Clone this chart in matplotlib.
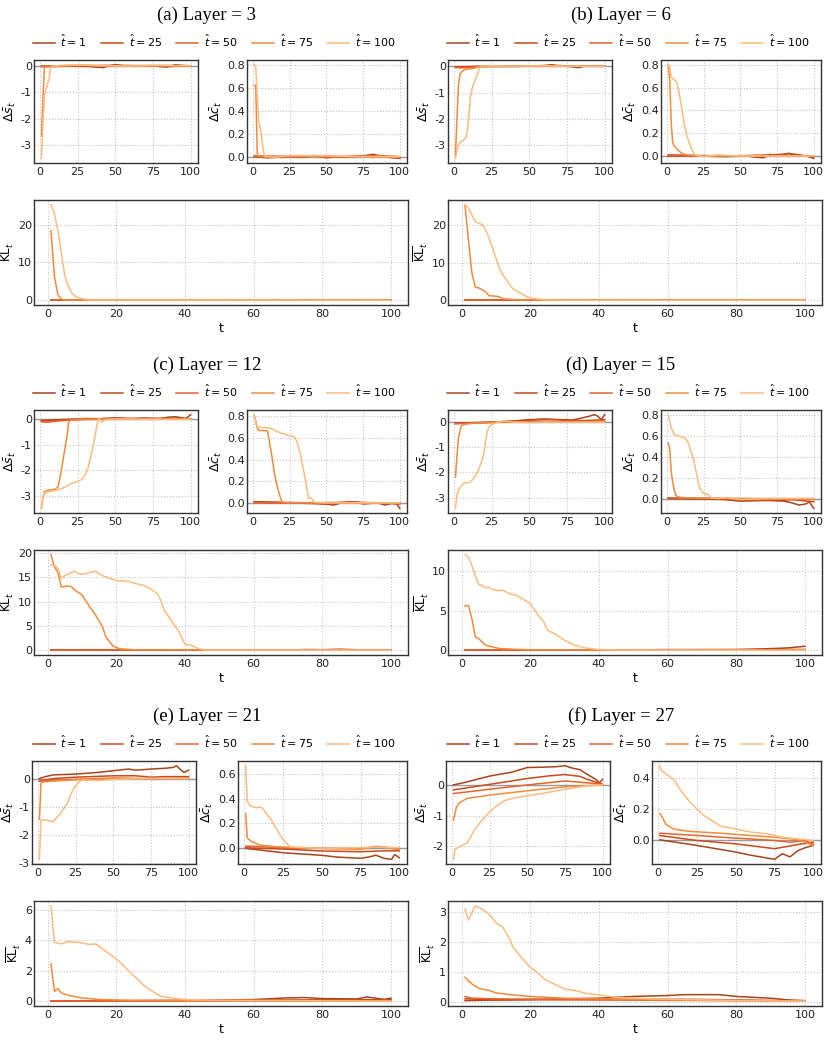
import matplotlib
matplotlib.use("Agg")
import matplotlib.pyplot as plt

plt.rcParams['axes.unicode_minus'] = False
plt.rcParams['font.family'] = 'DejaVu Sans'

W, H = 828, 1040

t_hats = [1, 25, 50, 75, 100]
colors = ['#a8441c', '#cc4a1a', '#e8622a', '#f38a3c', '#fdbb7f']
titles = ['(a) Layer = 3', '(b) Layer = 6', '(c) Layer = 12',
          '(d) Layer = 15', '(e) Layer = 21', '(f) Layer = 27']

# y tick values per panel: (s, c, KL)
yticks = [
    ([-3, -2, -1, 0], [0.0, 0.2, 0.4, 0.6, 0.8], [0, 10, 20]),
    ([-3, -2, -1, 0], [0.0, 0.2, 0.4, 0.6, 0.8], [0, 10, 20]),
    ([-3, -2, -1, 0], [0.0, 0.2, 0.4, 0.6, 0.8], [0, 5, 10, 15, 20]),
    ([-3, -2, -1, 0], [0.0, 0.2, 0.4, 0.6, 0.8], [0, 5, 10]),
    ([-3, -2, -1, 0], [0.0, 0.2, 0.4, 0.6], [0, 2, 4, 6]),
    ([-2, -1, 0], [0.0, 0.2, 0.4], [0, 1, 2, 3]),
]

# each curve: list of (t, value) pairs, order t_hat = 1, 25, 50, 75, 100
a_s = [
    [(1, -0.02), (10, -0.03), (20, 0.0), (30, -0.02), (42, -0.07), (45, -0.02), (50, 0.04), (55, 0.0), (65, -0.02), (75, 0.0), (84, -0.05), (90, 0.04), (93, 0.02), (100, -0.01)],
    [(1, -0.03), (15, 0.0), (30, -0.01), (50, 0.02), (70, -0.01), (85, -0.03), (100, 0.0)],
    [(1, -0.02), (25, 0.01), (50, 0.0), (75, 0.01), (100, 0.0)],
    [(1, -2.66), (2, -1.2), (3, -0.05), (10, -0.02), (25, 0.02), (50, 0.0), (100, 0.0)],
    [(1, -3.5), (2, -2.2), (3, -1.1), (4, -0.9), (5, -0.7), (6, -0.5), (7, -0.1), (8, -0.02), (15, 0.02), (25, 0.03), (40, 0.0), (60, -0.01), (80, 0.01), (100, 0.0)],
]
a_c = [
    [(1, 0.0), (10, -0.01), (25, 0.0), (35, -0.005), (42, 0.01), (50, -0.01), (60, 0.0), (70, -0.005), (82, 0.02), (88, 0.0), (95, -0.01), (100, -0.015)],
    [(1, 0.005), (20, 0.0), (40, 0.005), (60, -0.005), (80, 0.01), (100, -0.01)],
    [(1, 0.0), (30, 0.005), (60, 0.0), (85, 0.01), (100, 0.0)],
    [(1, 0.62), (2, 0.62), (3, 0.03), (4, 0.0), (20, 0.0), (50, 0.0), (100, -0.005)],
    [(1, 0.8), (2, 0.78), (3, 0.55), (4, 0.3), (5, 0.25), (6, 0.17), (7, 0.07), (8, 0.0), (15, -0.005), (25, 0.01), (45, 0.01), (70, 0.0), (100, 0.0)],
]
a_kl = [
    [(1, 0.0), (100, 0.0)],
    [(1, 0.0), (100, 0.0)],
    [(1, 0.02), (100, 0.02)],
    [(1, 18.4), (2, 6.3), (3, 1.5), (4, 0.3), (5, 0.05), (10, 0.0), (100, 0.0)],
    [(1, 25.3), (2, 23.0), (3, 18.5), (4, 12.5), (5, 6.5), (6, 3.8), (7, 2.0), (8, 1.1), (10, 0.4), (12, 0.15), (15, 0.03), (100, 0.0)],
]

b_s = [
    [(1, -0.02), (20, 0.0), (40, -0.01), (60, 0.02), (65, 0.06), (68, 0.02), (75, 0.0), (83, -0.05), (86, 0.0), (100, 0.0)],
    [(1, -0.03), (10, -0.02), (30, 0.0), (50, 0.01), (66, 0.04), (80, 0.0), (100, 0.0)],
    [(1, -0.05), (5, -0.06), (10, -0.05), (15, -0.02), (25, 0.0), (100, 0.0)],
    [(1, -3.4), (2, -2.0), (3, -0.7), (4, -0.3), (5, -0.22), (7, -0.13), (10, -0.1), (13, -0.08), (16, -0.03), (20, 0.0), (100, 0.0)],
    [(1, -3.5), (2, -3.2), (3, -3.0), (4, -2.9), (5, -2.86), (8, -2.73), (9, -2.4), (10, -1.8), (11, -1.15), (12, -0.85), (14, -0.53), (16, -0.22), (17, -0.06), (18, 0.0), (25, 0.02), (40, 0.0), (60, 0.02), (80, 0.0), (100, 0.0)],
]
b_c = [
    [(1, 0.0), (20, 0.0), (40, -0.005), (55, 0.0), (60, -0.01), (66, -0.015), (70, 0.015), (75, 0.0), (83, 0.025), (86, 0.01), (95, 0.0), (100, -0.02)],
    [(1, 0.01), (20, 0.005), (50, 0.0), (70, 0.01), (85, 0.02), (100, -0.01)],
    [(1, 0.005), (30, 0.0), (60, 0.005), (100, 0.0)],
    [(1, 0.8), (2, 0.66), (3, 0.29), (4, 0.12), (5, 0.09), (7, 0.06), (10, 0.025), (12, 0.015), (15, 0.005), (25, 0.0), (100, 0.0)],
    [(1, 0.8), (2, 0.78), (3, 0.69), (5, 0.67), (7, 0.64), (8, 0.58), (10, 0.43), (12, 0.27), (14, 0.16), (16, 0.09), (18, 0.03), (20, 0.005), (25, -0.005), (35, 0.01), (50, 0.0), (100, 0.0)],
]
b_kl = [
    [(1, 0.0), (100, 0.0)],
    [(1, 0.02), (100, 0.02)],
    [(1, 0.05), (100, 0.02)],
    [(1, 25.3), (2, 16.2), (3, 7.3), (4, 3.5), (5, 3.3), (6, 2.8), (7, 2.3), (8, 1.2), (10, 1.1), (11, 0.9), (12, 0.4), (15, 0.2), (20, 0.1), (25, 0.02), (100, 0.0)],
    [(1, 25.5), (2, 24.6), (3, 22.8), (4, 20.9), (5, 20.6), (6, 20.2), (7, 18.8), (8, 16.6), (9, 14.0), (10, 11.3), (11, 8.6), (12, 6.8), (13, 5.5), (14, 4.2), (15, 3.0), (17, 2.0), (19, 0.9), (20, 0.6), (22, 0.35), (25, 0.1), (28, 0.0), (100, 0.0)],
]

c_s = [
    [(1, -0.05), (10, -0.02), (20, 0.0), (30, 0.03), (40, 0.02), (50, 0.06), (60, 0.03), (70, 0.05), (80, 0.02), (85, 0.08), (90, 0.1), (95, 0.05), (97, 0.03), (100, 0.18)],
    [(1, -0.08), (10, -0.05), (20, -0.02), (40, 0.0), (50, 0.03), (70, 0.02), (85, 0.05), (100, 0.02)],
    [(1, -0.1), (5, -0.12), (10, -0.08), (20, -0.03), (30, 0.0), (60, 0.0), (100, 0.0)],
    [(1, -3.5), (2, -3.1), (3, -2.85), (5, -2.79), (10, -2.75), (12, -2.66), (14, -2.08), (16, -1.36), (18, -0.65), (19, -0.13), (20, -0.05), (25, 0.0), (100, 0.0)],
    [(1, -3.5), (2, -3.0), (4, -2.87), (10, -2.8), (15, -2.72), (20, -2.55), (25, -2.45), (28, -2.35), (30, -2.2), (32, -1.9), (34, -1.4), (36, -0.85), (38, -0.2), (39, 0.05), (41, -0.12), (43, -0.03), (50, 0.02), (70, 0.0), (100, 0.0)],
]
c_c = [
    [(1, 0.01), (20, 0.005), (40, 0.0), (50, -0.01), (55, -0.02), (60, 0.0), (70, 0.01), (75, -0.01), (85, 0.0), (90, -0.02), (95, 0.0), (98, -0.01), (100, -0.05)],
    [(1, 0.01), (25, 0.0), (50, -0.01), (65, 0.01), (80, 0.0), (100, -0.01)],
    [(1, 0.0), (30, 0.0), (60, 0.005), (100, 0.0)],
    [(1, 0.806), (2, 0.755), (3, 0.69), (4, 0.67), (10, 0.665), (11, 0.59), (13, 0.43), (15, 0.25), (17, 0.13), (19, 0.04), (20, 0.006), (25, 0.0), (100, 0.0)],
    [(1, 0.815), (2, 0.74), (3, 0.70), (10, 0.695), (12, 0.69), (15, 0.67), (20, 0.64), (25, 0.62), (28, 0.61), (30, 0.57), (32, 0.47), (34, 0.34), (36, 0.2), (38, 0.04), (39, 0.05), (40, 0.04), (42, 0.005), (50, 0.0), (100, 0.0)],
]
c_kl = [
    [(1, 0.0), (70, 0.0), (75, 0.15), (80, 0.1), (85, 0.2), (90, 0.1), (100, 0.05)],
    [(1, 0.0), (100, 0.0)],
    [(1, 0.0), (100, 0.0)],
    [(1, 19.6), (2, 17.1), (3, 16.0), (4, 13.0), (6, 13.2), (7, 13.0), (8, 12.3), (10, 11.4), (12, 9.2), (14, 7.2), (16, 4.8), (17, 2.7), (19, 0.9), (20, 0.55), (21, 0.3), (25, 0.1), (100, 0.0)],
    [(1, 17.5), (2, 17.4), (3, 16.8), (4, 14.8), (5, 15.3), (7, 16.0), (8, 16.2), (9, 15.7), (10, 15.6), (12, 15.9), (14, 16.2), (16, 15.3), (18, 14.8), (20, 14.3), (22, 14.2), (24, 14.1), (25, 13.8), (28, 13.3), (30, 12.6), (32, 11.6), (33, 10.2), (34, 8.2), (36, 6.1), (37, 5.1), (38, 4.1), (39, 2.7), (40, 1.2), (42, 1.0), (44, 0.3), (46, 0.05), (100, 0.0)],
]

d_s = [
    [(1, -0.03), (25, 0.0), (40, 0.05), (50, 0.1), (60, 0.13), (70, 0.1), (75, 0.05), (80, 0.1), (85, 0.17), (90, 0.24), (93, 0.3), (95, 0.26), (97, 0.15), (98, 0.1), (100, 0.3)],
    [(1, -0.05), (25, 0.0), (50, 0.08), (60, 0.1), (75, 0.1), (85, 0.06), (100, 0.1)],
    [(1, -0.06), (10, -0.04), (30, 0.0), (60, 0.02), (100, 0.05)],
    [(1, -2.19), (2, -1.34), (3, -0.62), (4, -0.35), (5, -0.13), (7, -0.09), (10, -0.06), (15, -0.03), (30, 0.0), (100, 0.0)],
    [(1, -3.43), (2, -2.91), (3, -2.71), (5, -2.52), (7, -2.4), (9, -2.42), (11, -2.38), (13, -2.25), (15, -2.06), (17, -1.8), (19, -1.47), (20, -1.2), (21, -0.75), (22, -0.4), (23, -0.22), (25, -0.09), (30, 0.03), (35, 0.05), (40, 0.0), (50, -0.02), (60, 0.0), (100, 0.0)],
]
d_c = [
    [(1, 0.0), (25, -0.005), (40, -0.01), (50, -0.025), (60, -0.02), (70, -0.015), (80, -0.025), (85, -0.04), (90, -0.062), (95, -0.05), (97, -0.03), (100, -0.093)],
    [(1, 0.005), (30, 0.0), (50, -0.015), (75, -0.02), (85, -0.01), (100, -0.03)],
    [(1, 0.005), (50, 0.0), (100, -0.005)],
    [(1, 0.53), (2, 0.47), (3, 0.255), (4, 0.16), (5, 0.084), (6, 0.037), (7, 0.02), (10, 0.01), (20, 0.005), (50, 0.0), (100, 0.0)],
    [(1, 0.8), (2, 0.74), (3, 0.675), (5, 0.61), (8, 0.6), (10, 0.59), (12, 0.58), (14, 0.55), (16, 0.47), (18, 0.38), (20, 0.255), (22, 0.115), (24, 0.062), (26, 0.044), (28, 0.04), (30, 0.006), (35, 0.0), (40, 0.01), (50, -0.01), (70, 0.0), (100, 0.0)],
]
d_kl = [
    [(1, 0.0), (40, 0.0), (60, 0.08), (80, 0.08), (90, 0.2), (95, 0.29), (100, 0.5)],
    [(1, 0.0), (60, 0.05), (100, 0.1)],
    [(1, 0.0), (100, 0.0)],
    [(1, 5.59), (2, 5.67), (3, 3.99), (4, 1.68), (5, 1.47), (7, 0.63), (9, 0.42), (11, 0.21), (15, 0.13), (20, 0.05), (100, 0.0)],
    [(1, 12.06), (2, 11.76), (3, 10.7), (4, 9.45), (5, 8.32), (6, 8.19), (7, 7.86), (8, 7.98), (9, 7.69), (10, 7.56), (12, 7.56), (14, 7.14), (16, 6.93), (18, 6.43), (20, 5.88), (22, 4.62), (24, 3.57), (25, 2.52), (27, 2.1), (30, 1.26), (33, 0.63), (36, 0.29), (40, 0.08), (50, 0.0), (100, 0.0)],
]

e_s = [
    [(1, 0.0), (5, 0.07), (10, 0.13), (25, 0.16), (40, 0.22), (50, 0.28), (60, 0.34), (65, 0.3), (75, 0.34), (85, 0.37), (90, 0.4), (92, 0.46), (95, 0.3), (97, 0.22), (100, 0.3)],
    [(1, -0.09), (10, 0.0), (25, 0.05), (50, 0.1), (65, 0.1), (75, 0.05), (85, 0.07), (100, 0.07)],
    [(1, -0.09), (25, -0.03), (50, 0.02), (75, -0.01), (100, 0.02)],
    [(1, -1.45), (2, -0.16), (3, -0.12), (10, -0.09), (25, -0.04), (50, 0.0), (100, 0.0)],
    [(1, -2.88), (2, -1.48), (5, -1.48), (10, -1.54), (12, -1.42), (15, -1.24), (18, -1.0), (20, -0.83), (22, -0.54), (25, -0.25), (28, -0.09), (30, -0.05), (40, -0.07), (50, -0.03), (75, 0.0), (100, 0.0)],
]
e_c = [
    [(1, 0.0), (25, -0.035), (50, -0.056), (60, -0.07), (75, -0.08), (80, -0.07), (85, -0.055), (90, -0.08), (95, -0.088), (97, -0.05), (100, -0.075)],
    [(1, 0.005), (25, -0.005), (50, -0.021), (75, -0.027), (90, -0.02), (100, -0.02)],
    [(1, 0.019), (25, 0.005), (50, 0.0), (75, 0.0), (85, 0.015), (100, 0.0)],
    [(1, 0.28), (2, 0.085), (4, 0.059), (10, 0.027), (20, 0.013), (50, 0.0), (75, -0.008), (85, 0.015), (100, -0.01)],
    [(1, 0.664), (2, 0.38), (4, 0.34), (8, 0.325), (10, 0.333), (12, 0.32), (15, 0.27), (18, 0.22), (20, 0.17), (23, 0.11), (25, 0.072), (28, 0.032), (30, 0.011), (40, 0.005), (50, 0.0), (75, 0.005), (85, 0.01), (100, 0.005)],
]
e_kl = [
    [(1, 0.0), (40, 0.05), (60, 0.11), (70, 0.22), (75, 0.24), (80, 0.17), (90, 0.15), (93, 0.28), (98, 0.12), (100, 0.2)],
    [(1, 0.02), (40, 0.05), (60, 0.08), (100, 0.1)],
    [(1, 0.03), (100, 0.03)],
    [(1, 2.46), (2, 0.65), (3, 0.83), (4, 0.54), (6, 0.39), (10, 0.22), (15, 0.11), (25, 0.06), (40, 0.04), (100, 0.02)],
    [(1, 6.26), (2, 3.87), (4, 3.76), (6, 3.91), (8, 3.87), (10, 3.83), (12, 3.72), (14, 3.76), (16, 3.43), (18, 3.1), (20, 2.78), (22, 2.35), (24, 1.91), (26, 1.48), (28, 1.04), (30, 0.72), (33, 0.33), (36, 0.22), (40, 0.11), (50, 0.065), (100, 0.0)],
]

f_s = [
    [(1, 0.0), (10, 0.1), (25, 0.29), (40, 0.42), (50, 0.57), (60, 0.58), (70, 0.6), (75, 0.63), (80, 0.55), (85, 0.5), (90, 0.34), (95, 0.2), (98, 0.07), (100, 0.18)],
    [(1, -0.16), (25, 0.02), (50, 0.21), (65, 0.3), (75, 0.34), (85, 0.28), (90, 0.18), (95, 0.1), (100, 0.02)],
    [(1, -0.28), (25, -0.14), (50, 0.0), (75, 0.13), (90, 0.07), (100, 0.02)],
    [(1, -1.15), (3, -0.72), (5, -0.58), (10, -0.44), (25, -0.33), (50, -0.19), (75, -0.06), (100, 0.0)],
    [(1, -2.43), (2, -2.1), (5, -2.02), (10, -1.9), (15, -1.47), (20, -1.15), (25, -0.88), (30, -0.67), (35, -0.51), (40, -0.44), (50, -0.35), (60, -0.28), (75, -0.14), (90, -0.03), (100, 0.0)],
]
f_c = [
    [(1, 0.0), (25, -0.036), (50, -0.079), (60, -0.1), (75, -0.126), (80, -0.09), (85, -0.11), (90, -0.07), (95, -0.05), (100, -0.036)],
    [(1, 0.028), (25, -0.004), (50, -0.026), (75, -0.057), (85, -0.04), (90, -0.03), (100, -0.015)],
    [(1, 0.043), (25, 0.028), (50, 0.011), (75, -0.004), (85, -0.015), (95, -0.005), (100, -0.03)],
    [(1, 0.17), (2, 0.16), (5, 0.1), (10, 0.07), (20, 0.055), (40, 0.043), (60, 0.028), (75, 0.017), (90, 0.002), (100, -0.036)],
    [(1, 0.48), (2, 0.45), (10, 0.39), (15, 0.315), (20, 0.25), (25, 0.2), (30, 0.155), (40, 0.09), (50, 0.07), (60, 0.05), (70, 0.04), (80, 0.017), (90, 0.006), (100, -0.004)],
]
f_kl = [
    [(1, 0.03), (20, 0.07), (40, 0.11), (50, 0.17), (60, 0.2), (65, 0.23), (75, 0.23), (80, 0.17), (85, 0.14), (90, 0.11), (95, 0.055), (100, 0.03)],
    [(1, 0.09), (10, 0.055), (30, 0.06), (50, 0.08), (70, 0.07), (100, 0.02)],
    [(1, 0.17), (3, 0.11), (10, 0.09), (40, 0.05), (100, 0.02)],
    [(1, 0.81), (3, 0.59), (5, 0.44), (8, 0.37), (10, 0.29), (15, 0.22), (20, 0.17), (30, 0.11), (40, 0.09), (50, 0.07), (60, 0.055), (80, 0.03), (100, 0.02)],
    [(1, 3.09), (2, 2.73), (4, 3.2), (6, 3.09), (8, 2.92), (10, 2.64), (12, 2.48), (14, 2.09), (15, 1.81), (17, 1.53), (20, 1.14), (22, 0.98), (24, 0.76), (26, 0.64), (28, 0.53), (30, 0.42), (33, 0.37), (36, 0.28), (40, 0.22), (45, 0.14), (50, 0.11), (60, 0.08), (70, 0.055), (80, 0.033), (90, 0.02), (100, 0.01)],
]

panels = [(a_s, a_c, a_kl), (b_s, b_c, b_kl), (c_s, c_c, c_kl),
          (d_s, d_c, d_kl), (e_s, e_c, e_kl), (f_s, f_c, f_kl)]

fig = plt.figure(figsize=(W / 100, H / 100), dpi=100)


def px_axes(x0, y0, x1, y1):
    return fig.add_axes([x0 / W, 1 - y1 / H, (x1 - x0) / W, (y1 - y0) / H])


def style(ax):
    ax.grid(True, linestyle=':', color='#c4c4c4', linewidth=0.8)
    ax.set_axisbelow(True)
    for sp in ax.spines.values():
        sp.set_color('#333333')
        sp.set_linewidth(1.0)
    ax.tick_params(axis='both', length=0, labelsize=8, colors='#222222')
    ax.tick_params(axis='x', pad=3)
    ax.tick_params(axis='y', pad=1.5)


def draw(ax, curves):
    lines = []
    for k, cur in enumerate(curves):
        xs = [p[0] for p in cur]
        ys = [p[1] for p in cur]
        ln, = ax.plot(xs, ys, color=colors[k], lw=1.1,
                      label=r'$\hat{t} = %d$' % t_hats[k])
        lines.append(ln)
    return lines


yoffs = [0, 350, 701]
xoffs = [0, 414]

for i, (s_d, c_d, kl_d) in enumerate(panels):
    row, col = i // 2, i % 2
    yo, xo = yoffs[row], xoffs[col]
    if row == 2:
        l1, r1, l2 = 32, 196, 238
    else:
        l1, r1, l2 = 34, 198, 247

    ax1 = px_axes(xo + l1, yo + 60, xo + r1, yo + 163)
    ax2 = px_axes(xo + l2, yo + 60, xo + 407, yo + 163)
    ax3 = px_axes(xo + 34, yo + 200, xo + 408, yo + 305)

    for ax in (ax1, ax2):
        ax.axhline(0, color='#999999', lw=1.0, zorder=1)

    handles = draw(ax1, s_d)
    draw(ax2, c_d)
    draw(ax3, kl_d)

    for ax in (ax1, ax2, ax3):
        style(ax)

    ax1.set_xticks([0, 25, 50, 75, 100])
    ax2.set_xticks([0, 25, 50, 75, 100])
    ax3.set_xticks([0, 20, 40, 60, 80, 100])
    ys_t, yc_t, ykl_t = yticks[i]
    ax1.set_yticks(ys_t)
    ax2.set_yticks(yc_t)
    ax2.set_yticklabels(['%.1f' % v for v in yc_t])
    ax3.set_yticks(ykl_t)

    ax1.set_ylabel(r'$\Delta\bar{s}_t$', fontsize=9, labelpad=2)
    ax2.set_ylabel(r'$\Delta\bar{c}_t$', fontsize=9, labelpad=2)
    ax3.set_ylabel(r'$\overline{\mathrm{KL}}_t$', fontsize=8.5, labelpad=1)
    ax3.set_xlabel('t', fontsize=9, labelpad=2)

    fig.text((xo + 207) / W, 1 - (yo + 15) / H, titles[i], ha='center', va='center',
             family='Liberation Serif', fontsize=13.5)
    fig.legend(handles=handles, loc='center', bbox_to_anchor=((xo + 214) / W, 1 - (yo + 41) / H),
               ncol=5, frameon=False, fontsize=8, handlelength=2.0,
               columnspacing=1.3, handletextpad=0.5, borderaxespad=0)

fig.savefig('out.png', dpi=100)
